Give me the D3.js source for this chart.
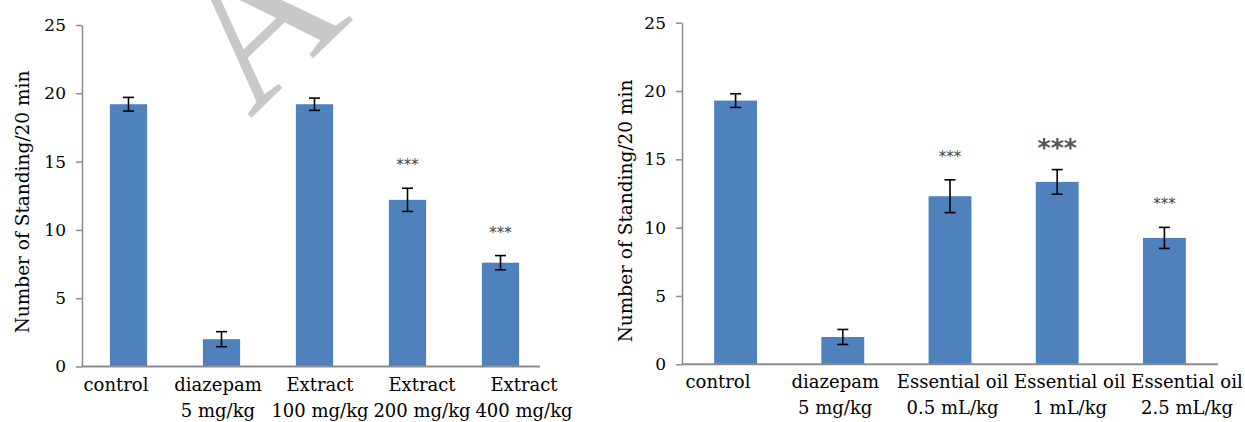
<!DOCTYPE html>
<html><head><meta charset="utf-8">
<script src="https://cdn.jsdelivr.net/npm/d3@7"></script>
<style>body{margin:0;background:#fff}svg{display:block}</style>
</head><body>
<svg id="c" width="1245" height="422"></svg>
<script>
// ---- data ----
const leftCategories = [["control"],["diazepam","5 mg/kg"],["Extract","100 mg/kg"],["Extract","200 mg/kg"],["Extract","400 mg/kg"]];
const leftValues = [19.2, 2.0, 19.2, 12.2, 7.6];
const leftErrors = [0.5, 0.55, 0.45, 0.85, 0.52];
const leftStars = ["", "", "", "***", "***"];

const rightCategories = [["control"],["diazepam","5 mg/kg"],["Essential oil","0.5 mL/kg"],["Essential oil","1 mL/kg"],["Essential oil","2.5 mL/kg"]];
const rightValues = [19.3, 2.0, 12.3, 13.35, 9.25];
const rightErrors = [0.5, 0.55, 1.2, 0.9, 0.77];
const rightStars = ["", "", "***", "***", "***"];
const rightStarBold = [false, false, false, true, false];

const yTicks = [0, 5, 10, 15, 20, 25];
const yLabel = "Number of Standing/20 min";

const svg = d3.select("#c");
const FONT = "DejaVu Serif";
const BLUE = "#4f81bd";
const AXIS = "#8c8c8c";

// watermark
svg.append("text")
  .attr("transform","translate(250,119) rotate(-44)")
  .attr("font-family","Liberation Serif").attr("font-size",200)
  .attr("fill","#c8c8c8").text("AC");

function chart(cfg){
  const g = svg.append("g");
  const y = d3.scaleLinear().domain([0,25]).range([cfg.y0, cfg.y25]);
  const x = d3.scaleBand().domain(d3.range(cfg.values.length)).range([cfg.xStart, cfg.xEnd]).paddingInner(cfg.pad).paddingOuter(cfg.pad/2);
  const xl = d3.scalePoint().domain(d3.range(cfg.values.length)).range(cfg.labelRange);

  // bars
  g.selectAll("rect.bar").data(cfg.values).join("rect")
    .attr("x",(d,i)=>x(i)).attr("width",x.bandwidth())
    .attr("y",d=>y(d)).attr("height",d=>y(0)-y(d)).attr("fill",BLUE);

  // error bars
  const eb = g.selectAll("g.eb").data(cfg.values).join("g");
  eb.append("line").attr("x1",(d,i)=>x(i)+x.bandwidth()/2).attr("x2",(d,i)=>x(i)+x.bandwidth()/2)
    .attr("y1",(d,i)=>y(d+cfg.errors[i])).attr("y2",(d,i)=>y(d-cfg.errors[i]))
    .attr("stroke","#000").attr("stroke-width",1.6);
  [1,-1].forEach(s=>{
    eb.append("line").attr("x1",(d,i)=>x(i)+x.bandwidth()/2-5.5).attr("x2",(d,i)=>x(i)+x.bandwidth()/2+5.5)
      .attr("y1",(d,i)=>y(d+s*cfg.errors[i])).attr("y2",(d,i)=>y(d+s*cfg.errors[i]))
      .attr("stroke","#000").attr("stroke-width",1.6);
  });

  // stars
  g.selectAll("text.star").data(cfg.values).join("text")
    .attr("x",(d,i)=>x(i)+x.bandwidth()/2)
    .attr("y",(d,i)=>y(d+cfg.errors[i]) - (cfg.bold&&cfg.bold[i]?14:18))
    .attr("text-anchor","middle")
    .attr("font-family","DejaVu Sans")
    .attr("font-size",(d,i)=>cfg.bold&&cfg.bold[i]?25:15)
    .attr("font-weight",(d,i)=>cfg.bold&&cfg.bold[i]?"bold":"normal")
    .attr("fill",(d,i)=>cfg.bold&&cfg.bold[i]?"#555":"#444")
    .text((d,i)=>cfg.stars[i]);

  // y axis
  const ya = d3.axisLeft(y).tickValues(yTicks).tickSize(6).tickPadding(10).tickSizeOuter(0);
  const yg = g.append("g").attr("transform",`translate(${cfg.xStart},0)`).call(ya);
  yg.select(".domain").attr("stroke",AXIS).attr("stroke-width",1.5);
  yg.selectAll(".tick line").attr("stroke",AXIS).attr("stroke-width",1.5);
  yg.selectAll(".tick text").attr("font-family",FONT).attr("font-size",17).attr("fill","#000");

  // x axis line
  g.append("line").attr("x1",cfg.xStart).attr("x2",cfg.axisEnd)
    .attr("y1",y(0)).attr("y2",y(0)).attr("stroke",AXIS).attr("stroke-width",2);

  // category labels
  const lab = g.selectAll("text.cat").data(cfg.cats).join("text")
    .attr("text-anchor","middle").attr("font-family",FONT).attr("font-size",18).attr("fill","#000");
  lab.each(function(d,i){
    const t = d3.select(this);
    d.forEach((s,k)=>{
      t.append("tspan").attr("x",xl(i)).attr("y",cfg.labelY + k*cfg.lineH).text(s);
    });
  });

  // y label
  g.append("text").attr("transform",`translate(${cfg.yLabelX},${cfg.yLabelY}) rotate(-90)`)
    .attr("text-anchor","middle").attr("font-family",FONT).attr("font-size",18.5).attr("fill","#000")
    .text(yLabel);
}

chart({values:leftValues, errors:leftErrors, stars:leftStars, cats:leftCategories,
  y0:366.5, y25:25, xStart:82, xEnd:547, axisEnd:540, pad:0.6,
  labelRange:[116,524], labelY:391, lineH:26, yLabelX:29, yLabelY:202});

chart({values:rightValues, errors:rightErrors, stars:rightStars, bold:rightStarBold, cats:rightCategories,
  y0:364.3, y25:22.7, xStart:682, xEnd:1218, axisEnd:1218, pad:0.6,
  labelRange:[718,1187], labelY:388, lineH:25.5, yLabelX:632, yLabelY:211});
</script>
</body></html>
